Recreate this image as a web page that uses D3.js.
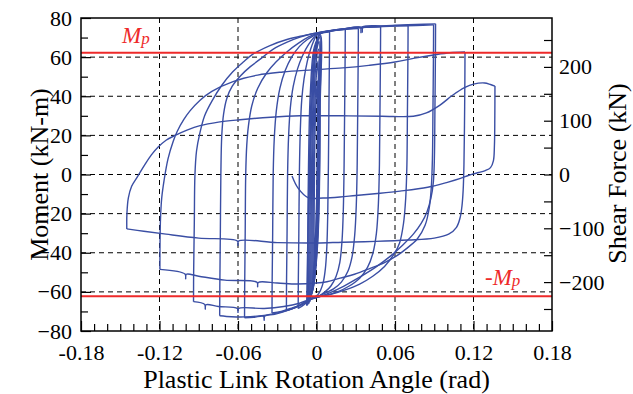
<!DOCTYPE html>
<html><head><meta charset="utf-8">
<script src="https://cdn.jsdelivr.net/npm/d3@7"></script>
<style>body{margin:0;background:#fff}svg{display:block}</style>
</head><body><svg id="c" width="633" height="394"></svg>
<script>
// ---- axis / tick data ----
const xMajor = [-0.18,-0.12,-0.06,0,0.06,0.12,0.18];
const xLabels = ["-0.18","-0.12","-0.06","0","0.06","0.12","0.18"];
const xGrid = [-0.12,-0.06,0,0.06,0.12];
const yMajor = [-80,-60,-40,-20,0,20,40,60,80];
const yGrid = [-60,-40,-20,0,20,40,60];
const shearLabels = [-200,-100,0,100,200];
const shearMinor = [-250,-150,-50,50,150,250];
const linkHalfLength = 0.275;   // M = V * e/2  (m)
const Mp = 62.3;

// ---- hysteresis data: [plastic rotation (rad), moment (kN-m)] ----
const band1 = [[-0.0020,-46],[-0.0018,-20],[-0.0015,5],[-0.0009,28],[0.0000,42],[0.0008,48],[0.0007,25],[0.0004,0],[-0.0004,-25],[-0.0015,-42],[-0.0028,-54]];
const band2 = [[-0.0028,-54],[-0.0026,-25],[-0.0022,5],[-0.0014,32],[-0.0002,50],[0.0012,58],[0.0011,30],[0.0007,0],[-0.0003,-28],[-0.0018,-48],[-0.0036,-60]];
const band3 = [[-0.0036,-60],[-0.0034,-28],[-0.0030,5],[-0.0020,36],[-0.0005,56],[0.0016,64],[0.0015,32],[0.0011,0],[0.0000,-30],[-0.0020,-52],[-0.0044,-63]];
const band4 = [[-0.0044,-63],[-0.0042,-30],[-0.0037,5],[-0.0026,38],[-0.0008,60],[0.0020,68],[0.0019,34],[0.0015,0],[0.0003,-32],[-0.0022,-55],[-0.0052,-65]];
const band5 = [[-0.0052,-65],[-0.0050,-30],[-0.0045,5],[-0.0033,40],[-0.0011,62],[0.0024,70],[0.0023,35],[0.0019,0],[0.0006,-33],[-0.0024,-57],[-0.0060,-66]];
const band6 = [[-0.0060,-66],[-0.0058,-30],[-0.0053,5],[-0.0040,42],[-0.0014,64],[0.0027,71],[0.0026,35],[0.0022,0],[0.0008,-34],[-0.0026,-58],[-0.0068,-66.5]];
const band7 = [[-0.0068,-66.5],[-0.0066,-30],[-0.0061,5],[-0.0047,42],[-0.0017,65],[0.0029,71.5],[0.0028,35],[0.0024,0],[0.0009,-35],[-0.0028,-59],[-0.0075,-67]];

const up0 = [[-0.0075,-67],[-0.0071,-50],[-0.0064,-25],[-0.0053,5],[-0.0040,30],[-0.0025,50],[-0.0010,62],[0.0005,69],[0.0025,71.8],[0.006,72.6],[0.010,73]];
const down1 = [[0.010,73],[0.0099,62],[0.0095,35],[0.0091,5],[0.0086,-20],[0.0079,-37],[0.0068,-48],[0.0052,-55],[0.0032,-59],[0.001,-61.5],[-0.002,-62.8],[-0.005,-64],[-0.0095,-66.5],[-0.014,-68.5]];
const up2 = [[-0.014,-68.5],[-0.0139,-55],[-0.0135,-30],[-0.0131,0],[-0.0124,22],[-0.0113,38],[-0.0095,49],[-0.007,58],[-0.0045,64],[-0.002,68.5],[0.0,71],[0.003,72.3],[0.008,73],[0.015,73.7],[0.022,74.2]];
const down2 = [[0.022,74.2],[0.0219,62],[0.0215,32],[0.0211,5],[0.0205,-18],[0.0195,-34],[0.0178,-45],[0.015,-52],[0.011,-57],[0.0065,-60],[0.002,-62],[-0.002,-62.8],[-0.005,-63.8],[-0.01,-66],[-0.016,-68],[-0.023,-69.5]];
const up3 = [[-0.023,-69.5],[-0.0229,-55],[-0.0225,-30],[-0.0221,0],[-0.0213,20],[-0.02,34],[-0.0178,45],[-0.0145,54],[-0.0105,61],[-0.006,66.5],[-0.002,70],[0.001,71.8],[0.006,72.8],[0.015,73.8],[0.024,74.3],[0.032,74.6]];
const down3 = [[0.032,74.6],[0.0319,62],[0.0315,32],[0.0311,5],[0.0304,-16],[0.0292,-31],[0.0272,-42],[0.024,-49.5],[0.019,-55],[0.013,-58.5],[0.007,-60.5],[0.002,-62],[-0.002,-62.8],[-0.005,-63.8],[-0.012,-66.5],[-0.02,-68.5],[-0.027,-70],[-0.034,-70.8]];
const up4 = [[-0.034,-70.8],[-0.0339,-55],[-0.0335,-30],[-0.0331,0],[-0.0323,18],[-0.0308,32],[-0.028,44],[-0.024,53],[-0.019,60],[-0.013,65.5],[-0.007,69],[-0.002,71],[0.003,72.4],[0.012,73.5],[0.025,74.5],[0.038,75.2],[0.049,75.5]];
const down4 = [[0.049,75.5],[0.0489,62],[0.0485,32],[0.0481,5],[0.0473,-15],[0.0458,-30],[0.0432,-40],[0.039,-47.5],[0.033,-53],[0.025,-57],[0.016,-60],[0.007,-61.8],[0.001,-62.5],[-0.005,-63.8],[-0.012,-66.5],[-0.022,-69.5],[-0.032,-71.5],[-0.0395,-72.4],[-0.040,-74.5],[-0.0405,-72.5],[-0.048,-73],[-0.055,-73.2]];
const up5 = [[-0.055,-73.2],[-0.0549,-58],[-0.0545,-30],[-0.0541,0],[-0.0533,15],[-0.052,25],[-0.0495,35],[-0.045,44],[-0.038,52],[-0.031,57.5],[-0.022,63],[-0.014,67],[-0.006,70.3],[0.0,72],[0.008,73.2],[0.02,74.3],[0.0345,75.1],[0.035,72.8],[0.0355,75.2],[0.05,75.8],[0.06,76],[0.07,76.2]];
const down5 = [[0.070,76.2],[0.0699,62],[0.0695,32],[0.0691,5],[0.0682,-12],[0.0665,-25],[0.0635,-35],[0.059,-41],[0.052,-47],[0.043,-52],[0.033,-56],[0.022,-59],[0.011,-61.3],[0.002,-62.5],[-0.005,-64],[-0.013,-67],[-0.025,-70],[-0.04,-72],[-0.055,-72.8],[-0.065,-72.7],[-0.074,-72.2]];
const up6 = [[-0.074,-72.2],[-0.0739,-58],[-0.0735,-30],[-0.0731,0],[-0.0724,20],[-0.071,31],[-0.0685,39],[-0.0645,45],[-0.058,50.5],[-0.0508,55],[-0.042,59.5],[-0.0333,64],[-0.022,67.8],[-0.0126,70.2],[-0.004,71.8],[0.005,73],[0.02,74.4],[0.0335,75.2],[0.034,72.5],[0.0345,75.3],[0.05,76],[0.06,76.3],[0.076,76.7],[0.091,77]];
const down6 = [[0.091,77],[0.0909,62],[0.0905,32],[0.0901,8],[0.0893,-4],[0.0875,-12],[0.0845,-19],[0.08,-25],[0.074,-30.5],[0.066,-36],[0.056,-42],[0.045,-47.5],[0.033,-52.5],[0.021,-57],[0.01,-60.5],[0.002,-62.5],[-0.005,-63.8],[-0.013,-65.8],[-0.025,-67.5],[-0.04,-68.5],[-0.0595,-68.5],[-0.060,-70.5],[-0.0605,-68.5],[-0.075,-67.5],[-0.0845,-66.6],[-0.085,-68.8],[-0.0855,-66.4],[-0.094,-65]];
const up7 = [[-0.094,-65],[-0.0939,-50],[-0.0934,-25],[-0.0929,0],[-0.0917,12],[-0.0892,21],[-0.0855,30],[-0.0795,38],[-0.0725,45.5],[-0.064,52.5],[-0.056,57.5],[-0.0486,61.5],[-0.036,65.8],[-0.0226,69],[-0.01,71],[-0.0027,72],[0.006,73],[0.02,74.4],[0.04,75.4],[0.06,75.9],[0.076,76.2],[0.0895,76.5]];
const down7 = [[0.0895,76.5],[0.0894,62],[0.089,32],[0.0886,8],[0.0878,-6],[0.0862,-17],[0.083,-26],[0.077,-33],[0.0685,-38],[0.0615,-41.5],[0.052,-45],[0.041,-48],[0.029,-51],[0.018,-53],[0.008,-54.8],[0.0,-55.5],[-0.015,-56],[-0.03,-55.5],[-0.0445,-55.2],[-0.045,-57.4],[-0.0455,-55.1],[-0.07,-54],[-0.09,-52],[-0.0995,-51],[-0.100,-53.3],[-0.1005,-50.9],[-0.1197,-48.5]];
const up8 = [[-0.1197,-48.5],[-0.1196,-35],[-0.1192,-22],[-0.1183,-12],[-0.1165,-3],[-0.1135,8],[-0.1095,17],[-0.1065,22],[-0.1015,28],[-0.0967,32.5],[-0.089,38],[-0.08,42.5],[-0.0638,47.5],[-0.045,50.8],[-0.0256,52.4],[-0.0027,53.5],[0.02,54.5],[0.04,55.8],[0.06,57.5],[0.075,59.5],[0.0906,61.2],[0.102,62.2],[0.1135,62.6]];
const down8 = [[0.1135,62.6],[0.1134,48],[0.1131,25],[0.1127,5],[0.1121,-8],[0.1112,-16],[0.1098,-22],[0.107,-27],[0.101,-30.5],[0.09,-32.5],[0.07,-33.5],[0.045,-34.2],[0.02,-34.6],[0.0,-35],[-0.03,-34.8],[-0.0595,-34],[-0.060,-36.2],[-0.0605,-34],[-0.09,-32.5],[-0.115,-30.5],[-0.132,-29],[-0.145,-27.8]];
const up9 = [[-0.145,-27.8],[-0.1449,-20],[-0.1438,-12],[-0.1413,-6],[-0.1367,-1],[-0.1312,5],[-0.1262,10],[-0.121,14],[-0.115,17.5],[-0.108,20],[-0.099,22.7],[-0.089,25],[-0.075,26.8],[-0.0585,28],[-0.035,29.3],[-0.0126,30],[0.02,30],[0.05,29.8],[0.074,29.8],[0.084,31.5],[0.0944,35.5],[0.104,40.5],[0.1135,44.5],[0.12,46.2],[0.1285,46.8],[0.133,46],[0.1364,45.2]];
const down9 = [[0.1364,45.2],[0.1363,30],[0.1360,15],[0.1352,7],[0.1330,3.5],[0.1290,2],[0.1240,1],[0.1197,0.3],[0.1160,-0.5],[0.110,-2],[0.1,-4],[0.085,-6.5],[0.0638,-8.5],[0.0486,-9.6],[0.03,-10.7],[0.018,-11.5],[0.005,-12],[-0.0065,-11.8],[-0.0141,-7],[-0.0187,-0.8]];

const branches = [band1,band2,band3,band4,band5,band6,band7,up0,down1,up2,down2,up3,down3,up4,down4,up5,down5,up6,down6,up7,down7,up8,down8,up9,down9];

// ---- drawing ----
const svg = d3.select("#c");
const L = 81, R = 552, T = 18, B = 331;
const x = d3.scaleLinear().domain([-0.18,0.18]).range([L,R]);
const y = d3.scaleLinear().domain([-80,80]).range([B,T]);
const yV = d3.scaleLinear().domain([-80/linkHalfLength,80/linkHalfLength]).range([B,T]);
const FONT = "'Liberation Serif','Times New Roman',serif";
const BLUE = "#3a4ea4", RED = "#ee2a2a";

svg.append("rect").attr("width",633).attr("height",394).attr("fill","#fff");

// grid
const g = svg.append("g").attr("stroke","#000").attr("stroke-width",1).attr("stroke-dasharray","5,4");
g.selectAll("line.gx").data(xGrid).join("line")
  .attr("x1",d=>x(d)).attr("x2",d=>x(d)).attr("y1",T).attr("y2",B);
g.selectAll("line.gy").data(yGrid).join("line")
  .attr("y1",d=>y(d)).attr("y2",d=>y(d)).attr("x1",L).attr("x2",R);

// hysteresis
const line = d3.line().x(d=>x(d[0])).y(d=>y(d[1])).curve(d3.curveCatmullRom.alpha(0.5));
svg.append("g").selectAll("path").data(branches).join("path")
  .attr("d",line).attr("fill","none").attr("stroke",BLUE).attr("stroke-width",1.4)
  .attr("stroke-linejoin","round");

// Mp lines
svg.selectAll("line.mp").data([Mp,-Mp]).join("line")
  .attr("x1",L).attr("x2",R).attr("y1",d=>y(d)).attr("y2",d=>y(d))
  .attr("stroke",RED).attr("stroke-width",2);

// axes
function styleAxis(sel){
  sel.select(".domain").remove();
  sel.selectAll("line").attr("stroke","#000").attr("stroke-width",1.2);
  sel.selectAll("text").attr("font-family",FONT).attr("font-size",22).attr("fill","#000");
}
const yMinor = d3.range(-70,80,20);
svg.append("g").attr("transform",`translate(${L},0)`)
  .call(d3.axisLeft(y).tickValues(yMinor).tickSize(-7).tickFormat("")).call(styleAxis);
svg.append("g").attr("transform",`translate(${L},0)`)
  .call(d3.axisLeft(y).tickValues(yMajor).tickSize(-10).tickPadding(9).tickFormat(d3.format("d"))).call(styleAxis);

const xMinor = d3.range(-17,18).map(i=>i/100).filter(v=>Math.abs(Math.round(v*100))%6!==0);
svg.append("g").attr("transform",`translate(0,${B})`)
  .call(d3.axisBottom(x).tickValues(xMinor).tickSize(-7).tickFormat("")).call(styleAxis);
svg.append("g").attr("transform",`translate(0,${B})`)
  .call(d3.axisBottom(x).tickValues(xMajor).tickSize(-10).tickPadding(13).tickFormat((d,i)=>xLabels[i])).call(styleAxis);

svg.append("g").attr("transform",`translate(${R},0)`)
  .call(d3.axisRight(yV).tickValues(shearMinor).tickSize(-8).tickFormat("")).call(styleAxis);
svg.append("g").attr("transform",`translate(${R},0)`)
  .call(d3.axisRight(yV).tickValues(shearLabels).tickSize(-8).tickPadding(7).tickFormat(d3.format("d"))).call(styleAxis);

// frame
svg.append("rect").attr("x",L).attr("y",T).attr("width",R-L).attr("height",B-T)
  .attr("fill","none").attr("stroke","#000").attr("stroke-width",1.5);

// titles
svg.append("text").attr("transform","translate(48,174.5) rotate(-90)").attr("text-anchor","middle")
  .attr("font-family",FONT).attr("font-size",26).text("Moment (kN-m)");
svg.append("text").attr("transform","translate(626,173.5) rotate(-90)").attr("text-anchor","middle")
  .attr("font-family",FONT).attr("font-size",26).text("Shear Force (kN)");
svg.append("text").attr("x",(L+R)/2).attr("y",388).attr("text-anchor","middle")
  .attr("font-family",FONT).attr("font-size",26).text("Plastic Link Rotation Angle (rad)");

// Mp labels
const t1 = svg.append("text").attr("x",122).attr("y",43).attr("font-family",FONT).attr("fill",RED).attr("font-style","italic");
t1.append("tspan").attr("font-size",23).text("M");
t1.append("tspan").attr("font-size",17).attr("dy",1).text("p");
const t2 = svg.append("text").attr("x",485).attr("y",285).attr("font-family",FONT).attr("fill",RED).attr("font-style","italic");
t2.append("tspan").attr("font-size",23).text("-M");
t2.append("tspan").attr("font-size",17).attr("dy",1).text("p");
</script></body></html>
